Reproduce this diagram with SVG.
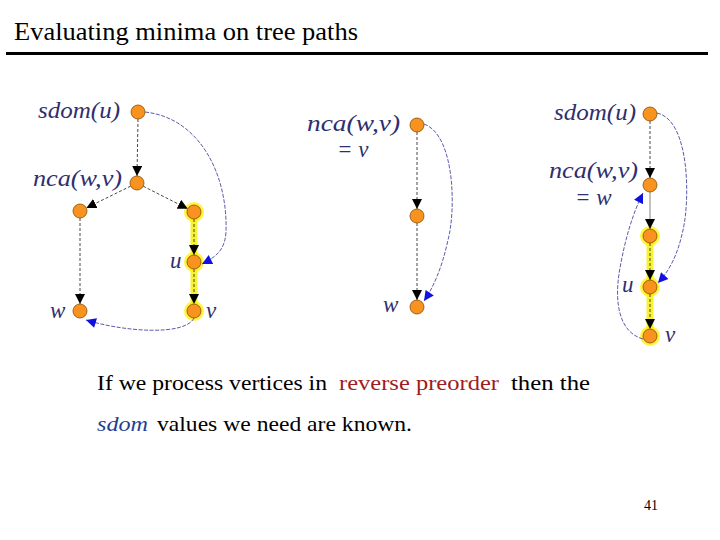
<svg xmlns="http://www.w3.org/2000/svg" width="720" height="540" viewBox="0 0 720 540">
<defs>
<style>
text{font-family:"Liberation Serif","Times New Roman",serif}
.lab{font-style:italic;font-size:23px;fill:#2f2f70}
.nd{fill:#f7931e;stroke:#8a4a00;stroke-width:0.8}
.halo{fill:#fff200;opacity:0.75}
.hl{stroke:#f5f000;stroke-width:7;opacity:0.8;fill:none}
.e{stroke:#333;stroke-width:0.9;stroke-dasharray:3 2;fill:none;marker-end:url(#ab)}
.b{stroke:#4848a0;stroke-width:0.9;stroke-dasharray:4 1.5;fill:none;marker-end:url(#abl)}
</style>
<marker id="ab" viewBox="0 0 10 10" refX="10" refY="5" markerWidth="10" markerHeight="10" markerUnits="userSpaceOnUse" orient="auto"><path d="M0,0 L10,5 L0,10 z" fill="#000"/></marker>
<marker id="abl" viewBox="0 0 10 10" refX="10" refY="5" markerWidth="11" markerHeight="10" markerUnits="userSpaceOnUse" orient="auto"><path d="M0,0 L10,5 L0,10 z" fill="#1010e0"/></marker>
</defs>
<rect width="720" height="540" fill="#fff"/>
<text font-family="Liberation Serif, serif" x="14" y="40" font-size="25" fill="#000" textLength="344" lengthAdjust="spacingAndGlyphs">Evaluating minima on tree paths</text>
<line x1="6" y1="53.5" x2="708" y2="53.5" stroke="#000" stroke-width="3"/>

<g id="highlights">
<line class="hl" x1="194" y1="212" x2="194" y2="311"/>
<circle class="halo" cx="194" cy="212" r="10"/>
<circle class="halo" cx="194" cy="262" r="10"/>
<circle class="halo" cx="194" cy="311" r="10"/>
<line class="hl" x1="650" y1="236" x2="650" y2="336"/>
<circle class="halo" cx="650" cy="236" r="10"/>
<circle class="halo" cx="650" cy="287" r="10"/>
<circle class="halo" cx="650" cy="336" r="10"/>
</g>

<g id="connectors">
<path class="e" d="M138,119 L137,176"/>
<path class="e" d="M130.7,186.1 L86.3,207.9"/>
<path class="e" d="M143.2,186.2 L187.8,208.8"/>
<path class="e" d="M194,219 L194,255"/>
<path class="e" d="M194,269 L194,304"/>
<path class="e" d="M80,218 L80,304"/>
<path class="b" d="M145,112 C200,118 228,175 226,232 C225,250 216,257 202,264"/>
<path class="b" d="M194,318 C185,336 125,332 86,320"/>
<path class="e" d="M417,132 L417,209"/>
<path class="e" d="M417,223 L417,300"/>
<path class="b" d="M424,124 C455,135 456,210 448,240 C442,268 433,288 424,301"/>
<path class="e" d="M650,121 L650,178"/>
<path class="e" d="M650,192 L650,229" style="stroke-dasharray:none;stroke:#777"/>
<path class="e" d="M650,243 L650,280"/>
<path class="e" d="M650,294 L650,329"/>
<path class="b" d="M657,113 C690,120 690,200 683,230 C677,258 668,272 658,283"/>
<path class="b" d="M643,339 C618,332 614,300 620,268 C625,240 632,215 643,193"/>
</g>

<g id="n-sdom-l"><circle class="nd" cx="138" cy="112" r="7"/><text class="lab" x="38" y="118" textLength="82" lengthAdjust="spacingAndGlyphs">sdom(u)</text></g>
<g id="n-nca-l"><circle class="nd" cx="137" cy="183" r="7"/><text class="lab" x="33" y="186" textLength="89" lengthAdjust="spacingAndGlyphs">nca(w,v)</text></g>
<g id="n-a-l"><circle class="nd" cx="80" cy="211" r="7"/></g>
<g id="n-b-l"><circle class="nd" cx="194" cy="212" r="7"/></g>
<g id="n-u-l"><circle class="nd" cx="194" cy="262" r="7"/><text class="lab" x="170" y="268">u</text></g>
<g id="n-w-l"><circle class="nd" cx="80" cy="311" r="7"/><text class="lab" x="50" y="318">w</text></g>
<g id="n-v-l"><circle class="nd" cx="194" cy="311" r="7"/><text class="lab" x="206" y="318">v</text></g>

<g id="n-nca-m"><circle class="nd" cx="417" cy="125" r="7"/><text class="lab" x="307" y="131" textLength="93" lengthAdjust="spacingAndGlyphs">nca(w,v)</text><text class="lab" x="337" y="157">= v</text></g>
<g id="n-mid-m"><circle class="nd" cx="417" cy="216" r="7"/></g>
<g id="n-w-m"><circle class="nd" cx="417" cy="307" r="7"/><text class="lab" x="383" y="312">w</text></g>

<g id="n-sdom-r"><circle class="nd" cx="650" cy="114" r="7"/><text class="lab" x="554" y="120" textLength="82" lengthAdjust="spacingAndGlyphs">sdom(u)</text></g>
<g id="n-nca-r"><circle class="nd" cx="650" cy="185" r="7"/><text class="lab" x="549" y="178" textLength="89" lengthAdjust="spacingAndGlyphs">nca(w,v)</text><text class="lab" x="575" y="205">= w</text></g>
<g id="n-c-r"><circle class="nd" cx="650" cy="236" r="7"/></g>
<g id="n-u-r"><circle class="nd" cx="650" cy="287" r="7"/><text class="lab" x="622" y="292">u</text></g>
<g id="n-v-r"><circle class="nd" cx="650" cy="336" r="7"/><text class="lab" x="665" y="342">v</text></g>

<g id="caption" font-size="21" fill="#000">
<text x="97" y="390" textLength="230" lengthAdjust="spacingAndGlyphs">If we process vertices in</text>
<text x="339" y="390" fill="#a01c1c" textLength="160" lengthAdjust="spacingAndGlyphs">reverse preorder</text>
<text x="511" y="390" textLength="79" lengthAdjust="spacingAndGlyphs">then the</text>
<text x="97" y="431" font-style="italic" fill="#1f3f8f" textLength="51" lengthAdjust="spacingAndGlyphs">sdom</text>
<text x="157" y="431" textLength="255" lengthAdjust="spacingAndGlyphs">values we need are known.</text>
</g>
<text x="644" y="510" font-size="14" fill="#000">41</text>
</svg>
